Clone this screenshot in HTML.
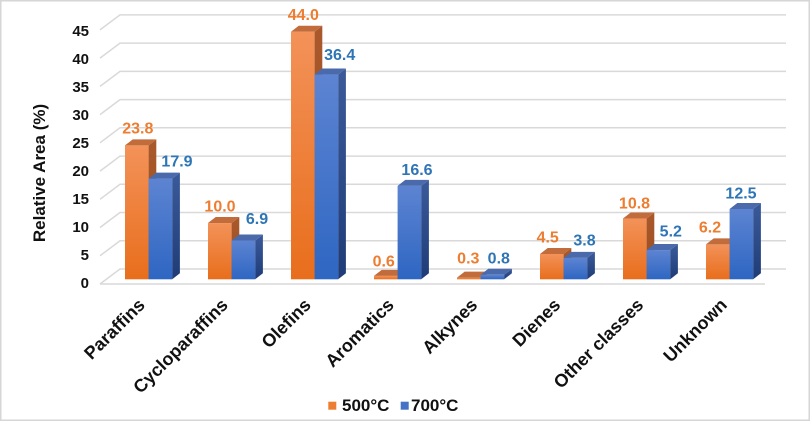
<!DOCTYPE html>
<html><head><meta charset="utf-8"><style>
html,body{margin:0;padding:0;background:#fff;}
svg{display:block;}
text{font-family:"Liberation Sans",Arial,sans-serif;}
</style></head><body>
<svg width="811" height="422" viewBox="0 0 811 422" xmlns="http://www.w3.org/2000/svg">
<defs>
<linearGradient id="of" x1="0" y1="0" x2="0" y2="1"><stop offset="0" stop-color="#f39259"/><stop offset="1" stop-color="#e86e1c"/></linearGradient>
<linearGradient id="bf" x1="0" y1="0" x2="0" y2="1"><stop offset="0" stop-color="#5d84d2"/><stop offset="1" stop-color="#2e66c2"/></linearGradient>
<linearGradient id="os" x1="0" y1="0" x2="0" y2="1"><stop offset="0" stop-color="#a9592c"/><stop offset="1" stop-color="#9a4c1e"/></linearGradient>
<linearGradient id="bs" x1="0" y1="0" x2="0" y2="1"><stop offset="0" stop-color="#3b5a9a"/><stop offset="1" stop-color="#1f3c78"/></linearGradient>
</defs>
<rect x="0" y="0" width="811" height="422" fill="#fff"/>
<rect x="0.75" y="0.75" width="808.5" height="419.5" fill="none" stroke="#d6d6d6" stroke-width="1.5"/>

<!-- gridlines -->
<g stroke="#d9d9d9" stroke-width="1.5" fill="none">
<polyline points="100,284 120,269 786,269"/>
<polyline points="100,255.8 120,240.8 786,240.8"/>
<polyline points="100,227.5 120,212.5 786,212.5"/>
<polyline points="100,199.3 120,184.3 786,184.3"/>
<polyline points="100,171.1 120,156.1 786,156.1"/>
<polyline points="100,142.8 120,127.8 786,127.8"/>
<polyline points="100,114.6 120,99.6 786,99.6"/>
<polyline points="100,86.4 120,71.4 786,71.4"/>
<polyline points="100,58.1 120,43.1 786,43.1"/>
<polyline points="100,29.9 120,14.9 786,14.9"/>
<line x1="100" y1="284" x2="765" y2="284"/>
</g>

<!-- tick labels -->
<g font-size="15" font-weight="bold" fill="#111" text-anchor="end">
<text x="89" y="288">0</text>
<text x="89" y="260">5</text>
<text x="89" y="232">10</text>
<text x="89" y="204">15</text>
<text x="89" y="176">20</text>
<text x="89" y="148">25</text>
<text x="89" y="120">30</text>
<text x="89" y="92">35</text>
<text x="89" y="64">40</text>
<text x="89" y="36">45</text>
</g>
<text transform="translate(45,173) rotate(-90)" text-anchor="middle" font-size="17" font-weight="bold" fill="#111">Relative Area (%)</text>

<!-- bars -->
<g transform="translate(125,0)">
<rect x="0" y="145.4" width="23.6" height="133.9" fill="url(#of)"/>
<polygon points="23.6,145.4 31.3,139.4 31.3,273.3 23.6,279.3" fill="url(#os)"/>
<polygon points="0,145.4 7.7,139.4 31.3,139.4 23.6,145.4" fill="#c16c3a"/>
</g>
<g transform="translate(148.6,0)">
<rect x="0" y="178.6" width="23.6" height="100.7" fill="url(#bf)"/>
<polygon points="23.6,178.6 31.3,172.6 31.3,273.3 23.6,279.3" fill="url(#bs)"/>
<polygon points="0,178.6 7.7,172.6 31.3,172.6 23.6,178.6" fill="#4a6aab"/>
</g>
<g transform="translate(208,0)">
<rect x="0" y="223.05" width="23.6" height="56.25" fill="url(#of)"/>
<polygon points="23.6,223.05 31.3,217.05 31.3,273.3 23.6,279.3" fill="url(#os)"/>
<polygon points="0,223.05 7.7,217.05 31.3,217.05 23.6,223.05" fill="#c16c3a"/>
</g>
<g transform="translate(231.6,0)">
<rect x="0" y="240.5" width="23.6" height="38.8" fill="url(#bf)"/>
<polygon points="23.6,240.5 31.3,234.5 31.3,273.3 23.6,279.3" fill="url(#bs)"/>
<polygon points="0,240.5 7.7,234.5 31.3,234.5 23.6,240.5" fill="#4a6aab"/>
</g>
<g transform="translate(291,0)">
<rect x="0" y="31.8" width="23.6" height="247.5" fill="url(#of)"/>
<polygon points="23.6,31.8 31.3,25.8 31.3,273.3 23.6,279.3" fill="url(#os)"/>
<polygon points="0,31.8 7.7,25.8 31.3,25.8 23.6,31.8" fill="#c16c3a"/>
</g>
<g transform="translate(314.6,0)">
<rect x="0" y="74.55" width="23.6" height="204.75" fill="url(#bf)"/>
<polygon points="23.6,74.55 31.3,68.55 31.3,273.3 23.6,279.3" fill="url(#bs)"/>
<polygon points="0,74.55 7.7,68.55 31.3,68.55 23.6,74.55" fill="#4a6aab"/>
</g>
<g transform="translate(374,0)">
<rect x="0" y="275.9" width="23.6" height="3.4" fill="url(#of)"/>
<polygon points="23.6,275.9 31.3,269.9 31.3,273.3 23.6,279.3" fill="url(#os)"/>
<polygon points="0,275.9 7.7,269.9 31.3,269.9 23.6,275.9" fill="#c16c3a"/>
</g>
<g transform="translate(397.6,0)">
<rect x="0" y="185.9" width="23.6" height="93.4" fill="url(#bf)"/>
<polygon points="23.6,185.9 31.3,179.9 31.3,273.3 23.6,279.3" fill="url(#bs)"/>
<polygon points="0,185.9 7.7,179.9 31.3,179.9 23.6,185.9" fill="#4a6aab"/>
</g>
<g transform="translate(457,0)">
<rect x="0" y="277.6" width="23.6" height="1.7" fill="url(#of)"/>
<polygon points="23.6,277.6 31.3,271.6 31.3,273.3 23.6,279.3" fill="url(#os)"/>
<polygon points="0,277.6 7.7,271.6 31.3,271.6 23.6,277.6" fill="#c16c3a"/>
</g>
<g transform="translate(480.6,0)">
<rect x="0" y="274.8" width="23.6" height="4.5" fill="url(#bf)"/>
<polygon points="23.6,274.8 31.3,268.8 31.3,273.3 23.6,279.3" fill="url(#bs)"/>
<polygon points="0,274.8 7.7,268.8 31.3,268.8 23.6,274.8" fill="#4a6aab"/>
</g>
<g transform="translate(540,0)">
<rect x="0" y="254" width="23.6" height="25.3" fill="url(#of)"/>
<polygon points="23.6,254 31.3,248 31.3,273.3 23.6,279.3" fill="url(#os)"/>
<polygon points="0,254 7.7,248 31.3,248 23.6,254" fill="#c16c3a"/>
</g>
<g transform="translate(563.6,0)">
<rect x="0" y="257.9" width="23.6" height="21.4" fill="url(#bf)"/>
<polygon points="23.6,257.9 31.3,251.9 31.3,273.3 23.6,279.3" fill="url(#bs)"/>
<polygon points="0,257.9 7.7,251.9 31.3,251.9 23.6,257.9" fill="#4a6aab"/>
</g>
<g transform="translate(623,0)">
<rect x="0" y="218.55" width="23.6" height="60.75" fill="url(#of)"/>
<polygon points="23.6,218.55 31.3,212.55 31.3,273.3 23.6,279.3" fill="url(#os)"/>
<polygon points="0,218.55 7.7,212.55 31.3,212.55 23.6,218.55" fill="#c16c3a"/>
</g>
<g transform="translate(646.6,0)">
<rect x="0" y="250.05" width="23.6" height="29.25" fill="url(#bf)"/>
<polygon points="23.6,250.05 31.3,244.05 31.3,273.3 23.6,279.3" fill="url(#bs)"/>
<polygon points="0,250.05 7.7,244.05 31.3,244.05 23.6,250.05" fill="#4a6aab"/>
</g>
<g transform="translate(706,0)">
<rect x="0" y="244.4" width="23.6" height="34.9" fill="url(#of)"/>
<polygon points="23.6,244.4 31.3,238.4 31.3,273.3 23.6,279.3" fill="url(#os)"/>
<polygon points="0,244.4 7.7,238.4 31.3,238.4 23.6,244.4" fill="#c16c3a"/>
</g>
<g transform="translate(729.6,0)">
<rect x="0" y="209" width="23.6" height="70.3" fill="url(#bf)"/>
<polygon points="23.6,209 31.3,203 31.3,273.3 23.6,279.3" fill="url(#bs)"/>
<polygon points="0,209 7.7,203 31.3,203 23.6,209" fill="#4a6aab"/>
</g>

<!-- data labels -->
<g font-size="16" font-weight="bold" text-anchor="middle">
<g fill="#ed7d31">
<text x="137.8" y="133.3">23.8</text>
<text x="220" y="211.7">10.0</text>
<text x="303.3" y="20">44.0</text>
<text x="383.7" y="266.7">0.6</text>
<text x="468.3" y="263.3">0.3</text>
<text x="547.7" y="242.3">4.5</text>
<text x="634.5" y="208.3">10.8</text>
<text x="710" y="232.3">6.2</text>
</g>
<g fill="#2e75b6">
<text x="177" y="166.7">17.9</text>
<text x="257" y="224">6.9</text>
<text x="339.7" y="60">36.4</text>
<text x="417" y="175">16.6</text>
<text x="498.8" y="263.3">0.8</text>
<text x="584.5" y="245.7">3.8</text>
<text x="670.8" y="236.7">5.2</text>
<text x="741" y="198.3">12.5</text>
</g>
</g>

<!-- category labels -->
<g font-size="18" font-weight="bold" fill="#111" text-anchor="end">
<text transform="translate(146,306) rotate(-45)">Paraffins</text>
<text transform="translate(229,306) rotate(-45)">Cycloparaffins</text>
<text transform="translate(312,306) rotate(-45)">Olefins</text>
<text transform="translate(395,306) rotate(-45)">Aromatics</text>
<text transform="translate(478.5,306) rotate(-45)">Alkynes</text>
<text transform="translate(561.5,306) rotate(-45)">Dienes</text>
<text transform="translate(644.5,306) rotate(-45)">Other classes</text>
<text transform="translate(728,306) rotate(-45)">Unknown</text>
</g>

<!-- legend -->
<rect x="328.3" y="401.7" width="8" height="8" fill="#ed7d31"/>
<text x="342" y="411" font-size="17" font-weight="bold" fill="#111">500°C</text>
<rect x="400.7" y="401.7" width="8" height="8" fill="#4472c4"/>
<text x="411" y="411" font-size="17" font-weight="bold" fill="#111">700°C</text>
</svg>
</body></html>
